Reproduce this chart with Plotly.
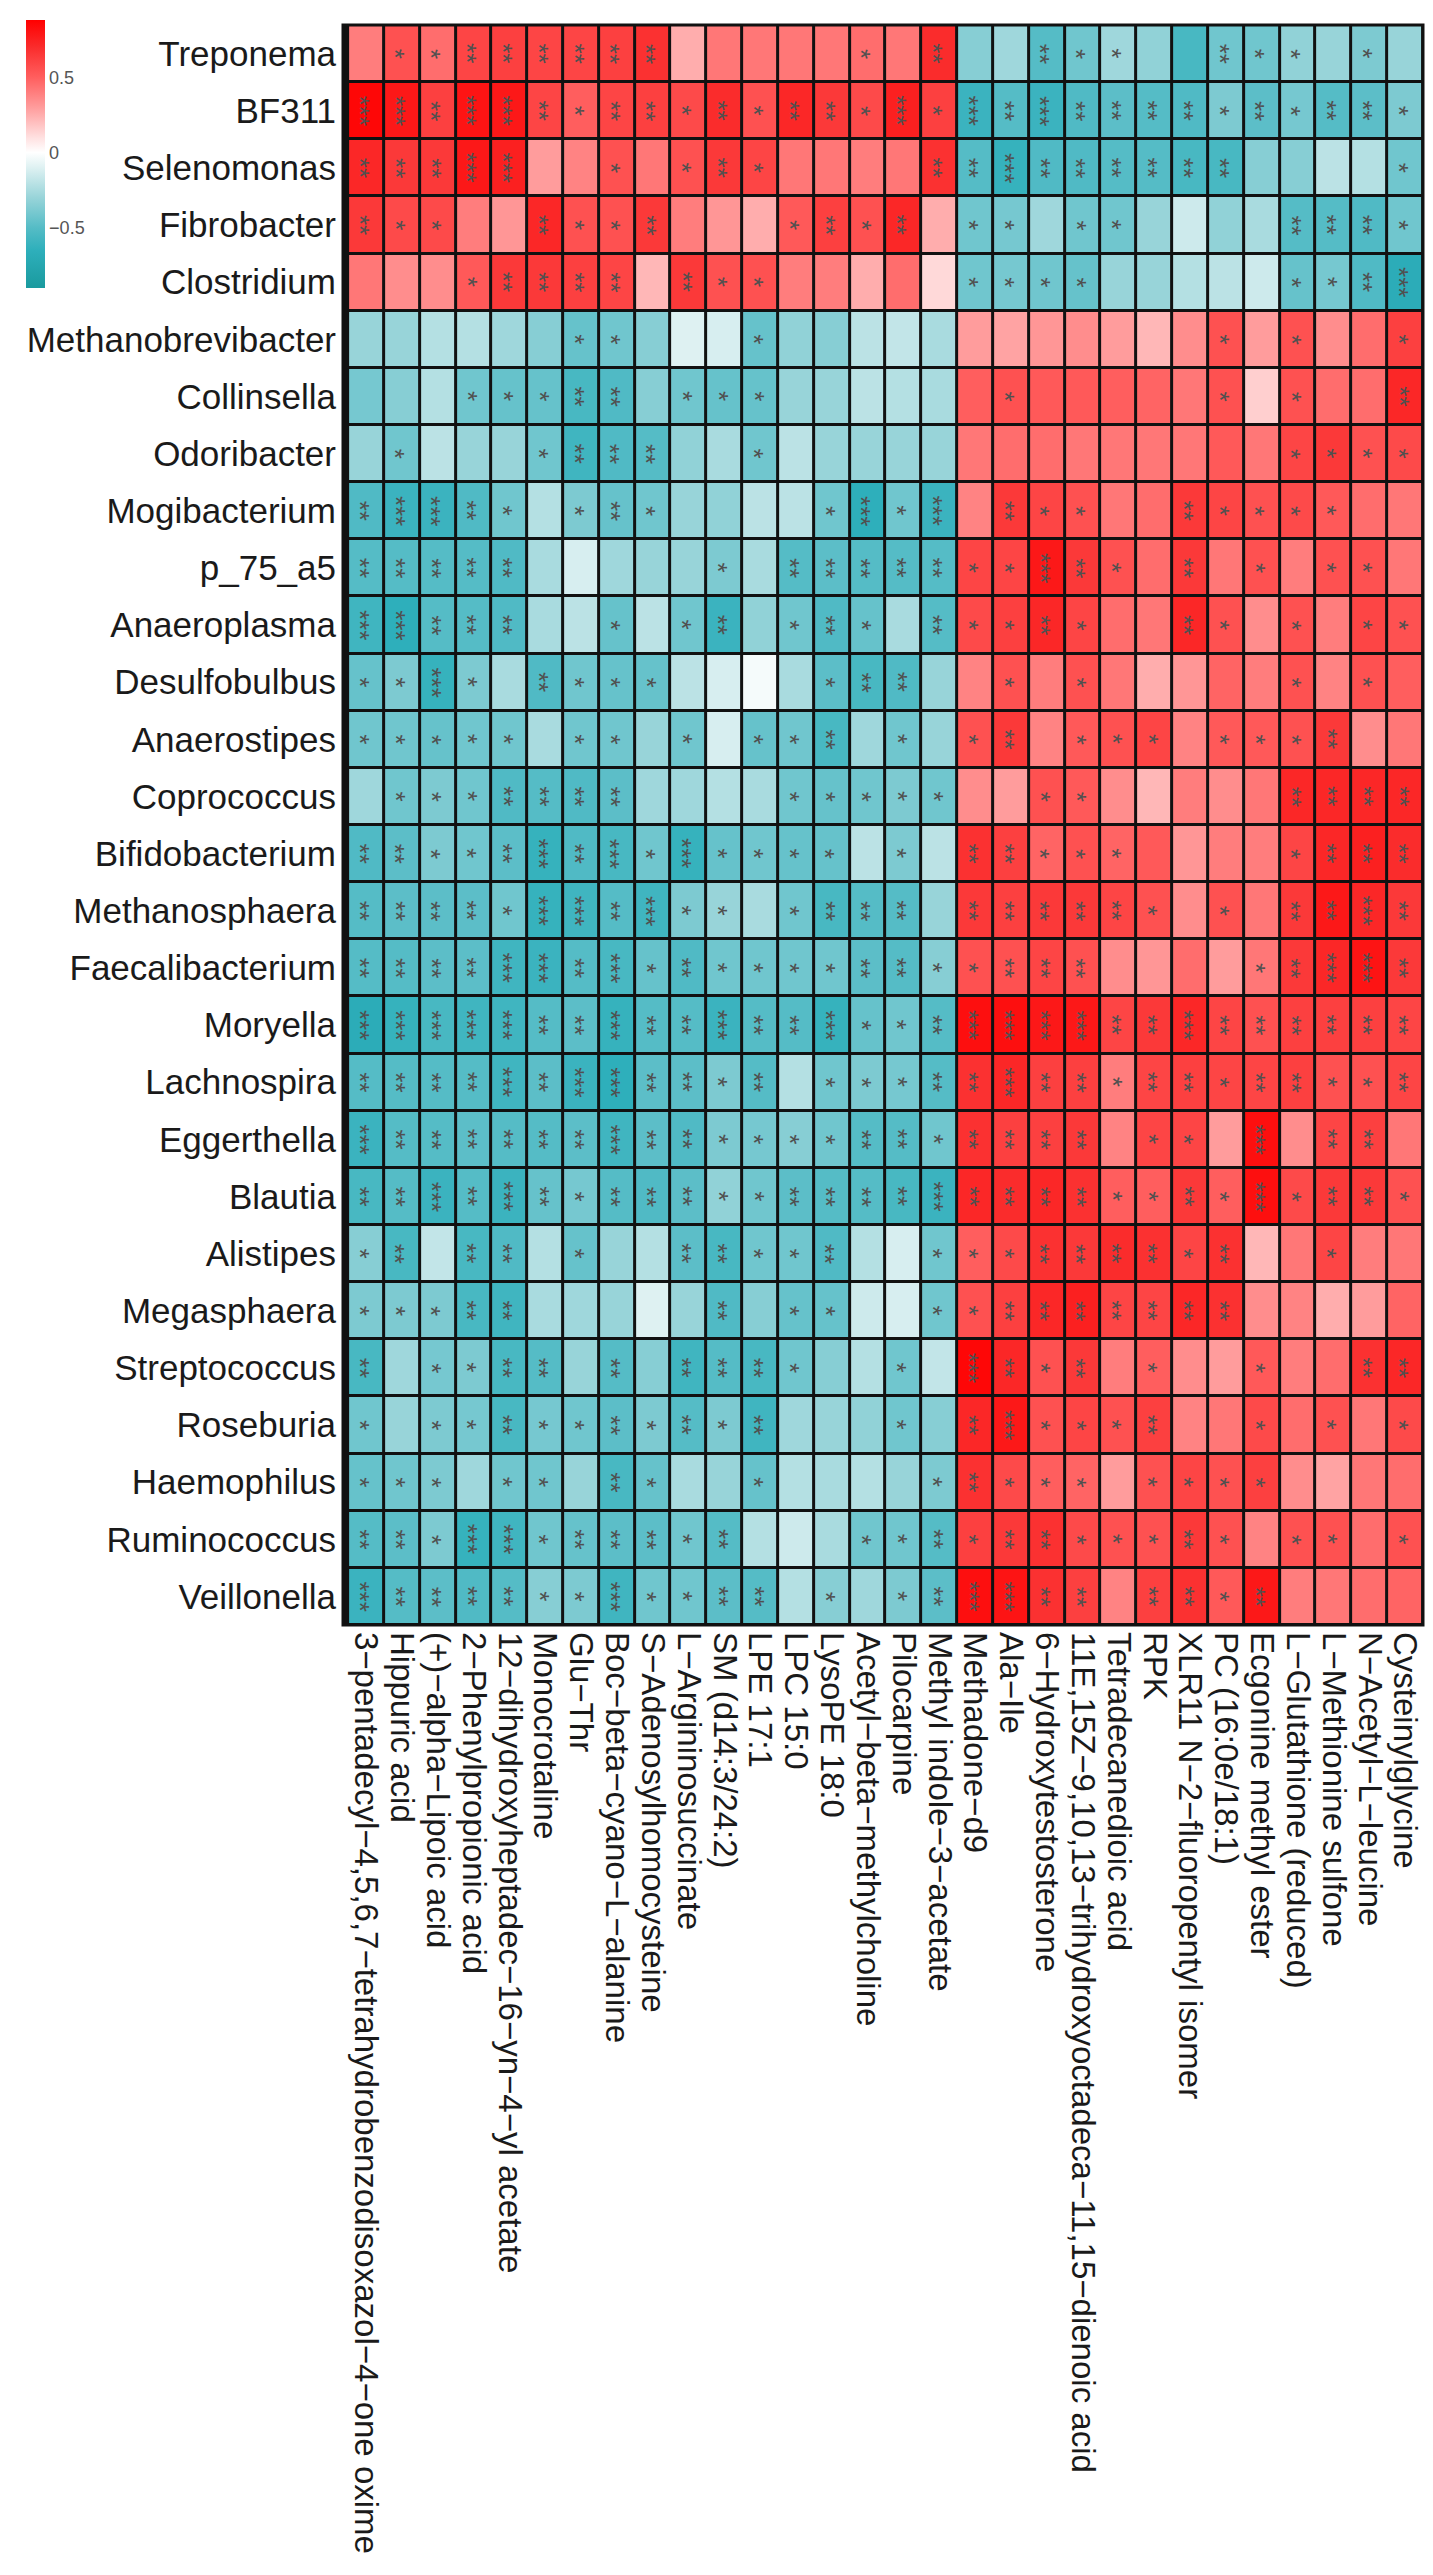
import plotly.graph_objects as go

taxa = ["Treponema", "BF311", "Selenomonas", "Fibrobacter", "Clostridium",
        "Methanobrevibacter", "Collinsella", "Odoribacter", "Mogibacterium", "p_75_a5",
        "Anaeroplasma", "Desulfobulbus", "Anaerostipes", "Coprococcus", "Bifidobacterium",
        "Methanosphaera", "Faecalibacterium", "Moryella", "Lachnospira", "Eggerthella",
        "Blautia", "Alistipes", "Megasphaera", "Streptococcus", "Roseburia",
        "Haemophilus", "Ruminococcus", "Veillonella"]

metabolites = [
    "3−pentadecyl−4,5,6,7−tetrahydrobenzodisoxazol−4−one oxime",
    "Hippuric acid",
    "(+)−alpha−Lipoic acid",
    "2−Phenylpropionic acid",
    "12−dihydroxyheptadec−16−yn−4−yl acetate",
    "Monocrotaline",
    "Glu−Thr",
    "Boc−beta−cyano−L−alanine",
    "S−Adenosylhomocysteine",
    "L−Argininosuccinate",
    "SM (d14:3/24:2)",
    "LPE 17:1",
    "LPC 15:0",
    "LysoPE 18:0",
    "Acetyl−beta−methylcholine",
    "Pilocarpine",
    "Methyl indole−3−acetate",
    "Methadone−d9",
    "Ala−Ile",
    "6−Hydroxytestosterone",
    "11E,15Z−9,10,13−trihydroxyoctadeca−11,15−dienoic acid",
    "Tetradecanedioic acid",
    "RPK",
    "XLR11 N−2−fluoropentyl isomer",
    "PC (16:0e/18:1)",
    "Ecgonine methyl ester",
    "L−Glutathione (reduced)",
    "L−Methionine sulfone",
    "N−Acetyl−L−leucine",
    "Cysteinylglycine",
]

# correlation coefficients, one row per taxon (same order as `taxa`)
corr = [
    [0.40, 0.55, 0.45, 0.60, 0.62, 0.60, 0.60, 0.62, 0.68, 0.25, 0.42, 0.42, 0.42, 0.42, 0.45, 0.42, 0.70, -0.35, -0.28, -0.50, -0.42, -0.28, -0.32, -0.55, -0.42, -0.42, -0.32, -0.30, -0.38, -0.30],
    [0.85, 0.78, 0.62, 0.80, 0.78, 0.60, 0.50, 0.60, 0.62, 0.58, 0.70, 0.55, 0.72, 0.65, 0.58, 0.75, 0.62, -0.60, -0.50, -0.60, -0.52, -0.48, -0.50, -0.52, -0.38, -0.48, -0.40, -0.50, -0.48, -0.38],
    [0.72, 0.65, 0.65, 0.78, 0.75, 0.30, 0.38, 0.55, 0.42, 0.55, 0.65, 0.60, 0.42, 0.42, 0.40, 0.42, 0.68, -0.50, -0.62, -0.52, -0.52, -0.50, -0.50, -0.55, -0.55, -0.35, -0.35, -0.20, -0.22, -0.42],
    [0.65, 0.58, 0.58, 0.40, 0.32, 0.72, 0.55, 0.55, 0.65, 0.40, 0.32, 0.25, 0.52, 0.62, 0.55, 0.72, 0.25, -0.42, -0.40, -0.28, -0.42, -0.42, -0.30, -0.15, -0.32, -0.25, -0.50, -0.50, -0.52, -0.42],
    [0.42, 0.35, 0.35, 0.52, 0.65, 0.65, 0.62, 0.60, 0.22, 0.65, 0.55, 0.55, 0.40, 0.40, 0.25, 0.45, 0.12, -0.42, -0.40, -0.42, -0.45, -0.30, -0.30, -0.22, -0.20, -0.15, -0.45, -0.40, -0.52, -0.68],
    [-0.30, -0.30, -0.22, -0.22, -0.28, -0.35, -0.45, -0.42, -0.35, -0.10, -0.12, -0.45, -0.32, -0.35, -0.20, -0.18, -0.25, 0.30, 0.28, 0.32, 0.35, 0.30, 0.22, 0.35, 0.55, 0.30, 0.55, 0.35, 0.45, 0.62],
    [-0.40, -0.35, -0.22, -0.42, -0.45, -0.45, -0.55, -0.52, -0.35, -0.42, -0.45, -0.45, -0.30, -0.30, -0.20, -0.22, -0.25, 0.50, 0.55, 0.52, 0.52, 0.50, 0.48, 0.42, 0.55, 0.15, 0.55, 0.45, 0.45, 0.72],
    [-0.30, -0.42, -0.20, -0.30, -0.30, -0.42, -0.58, -0.52, -0.50, -0.32, -0.25, -0.42, -0.20, -0.30, -0.30, -0.30, -0.30, 0.42, 0.45, 0.45, 0.42, 0.42, 0.42, 0.42, 0.52, 0.42, 0.60, 0.65, 0.55, 0.58],
    [-0.52, -0.60, -0.60, -0.52, -0.42, -0.22, -0.38, -0.45, -0.42, -0.30, -0.32, -0.20, -0.20, -0.42, -0.65, -0.42, -0.60, 0.38, 0.65, 0.60, 0.55, 0.42, 0.45, 0.65, 0.60, 0.55, 0.58, 0.52, 0.45, 0.42],
    [-0.50, -0.50, -0.50, -0.50, -0.52, -0.25, -0.12, -0.28, -0.30, -0.30, -0.38, -0.25, -0.50, -0.48, -0.50, -0.50, -0.50, 0.60, 0.60, 0.78, 0.65, 0.55, 0.45, 0.65, 0.42, 0.55, 0.40, 0.55, 0.55, 0.42],
    [-0.58, -0.65, -0.50, -0.50, -0.52, -0.25, -0.20, -0.45, -0.20, -0.42, -0.60, -0.32, -0.42, -0.52, -0.45, -0.25, -0.50, 0.58, 0.62, 0.72, 0.60, 0.45, 0.42, 0.72, 0.55, 0.35, 0.55, 0.40, 0.60, 0.55],
    [-0.45, -0.38, -0.62, -0.38, -0.25, -0.52, -0.42, -0.45, -0.45, -0.20, -0.12, -0.03, -0.25, -0.48, -0.55, -0.52, -0.30, 0.38, 0.55, 0.40, 0.55, 0.42, 0.25, 0.32, 0.48, 0.40, 0.55, 0.38, 0.55, 0.50],
    [-0.42, -0.42, -0.45, -0.42, -0.42, -0.25, -0.42, -0.42, -0.30, -0.42, -0.12, -0.45, -0.42, -0.55, -0.28, -0.42, -0.30, 0.55, 0.65, 0.38, 0.52, 0.55, 0.60, 0.38, 0.52, 0.52, 0.55, 0.65, 0.35, 0.42],
    [-0.28, -0.42, -0.38, -0.42, -0.52, -0.50, -0.52, -0.48, -0.28, -0.28, -0.22, -0.25, -0.42, -0.45, -0.42, -0.38, -0.42, 0.35, 0.30, 0.55, 0.52, 0.35, 0.22, 0.40, 0.35, 0.42, 0.72, 0.72, 0.72, 0.72],
    [-0.52, -0.48, -0.38, -0.42, -0.48, -0.62, -0.52, -0.55, -0.42, -0.62, -0.45, -0.42, -0.45, -0.45, -0.20, -0.38, -0.20, 0.68, 0.62, 0.48, 0.55, 0.48, 0.52, 0.32, 0.40, 0.40, 0.60, 0.72, 0.75, 0.70],
    [-0.50, -0.48, -0.48, -0.48, -0.42, -0.62, -0.58, -0.50, -0.58, -0.38, -0.30, -0.25, -0.42, -0.55, -0.50, -0.50, -0.30, 0.65, 0.62, 0.65, 0.65, 0.60, 0.55, 0.35, 0.55, 0.42, 0.65, 0.78, 0.72, 0.65],
    [-0.50, -0.50, -0.48, -0.48, -0.58, -0.60, -0.50, -0.55, -0.45, -0.52, -0.42, -0.42, -0.42, -0.42, -0.48, -0.50, -0.35, 0.55, 0.55, 0.60, 0.55, 0.35, 0.32, 0.45, 0.30, 0.42, 0.65, 0.72, 0.80, 0.65],
    [-0.68, -0.62, -0.55, -0.58, -0.58, -0.50, -0.48, -0.62, -0.50, -0.50, -0.60, -0.50, -0.50, -0.62, -0.45, -0.42, -0.50, 0.82, 0.82, 0.78, 0.78, 0.60, 0.65, 0.72, 0.60, 0.55, 0.62, 0.62, 0.62, 0.60],
    [-0.50, -0.50, -0.50, -0.50, -0.58, -0.48, -0.60, -0.65, -0.48, -0.48, -0.38, -0.50, -0.22, -0.42, -0.38, -0.40, -0.50, 0.68, 0.72, 0.62, 0.62, 0.40, 0.60, 0.62, 0.60, 0.60, 0.62, 0.55, 0.55, 0.60],
    [-0.60, -0.50, -0.50, -0.48, -0.50, -0.50, -0.48, -0.58, -0.48, -0.52, -0.38, -0.40, -0.35, -0.42, -0.50, -0.50, -0.42, 0.68, 0.62, 0.62, 0.65, 0.38, 0.60, 0.60, 0.30, 0.82, 0.35, 0.60, 0.62, 0.42],
    [-0.55, -0.50, -0.60, -0.50, -0.60, -0.45, -0.40, -0.50, -0.52, -0.48, -0.32, -0.42, -0.48, -0.50, -0.50, -0.55, -0.60, 0.72, 0.70, 0.72, 0.68, 0.50, 0.50, 0.65, 0.50, 0.82, 0.58, 0.65, 0.65, 0.55],
    [-0.35, -0.55, -0.18, -0.55, -0.52, -0.22, -0.45, -0.30, -0.22, -0.48, -0.55, -0.42, -0.42, -0.52, -0.22, -0.12, -0.42, 0.50, 0.58, 0.68, 0.65, 0.70, 0.68, 0.60, 0.68, 0.22, 0.42, 0.60, 0.40, 0.42],
    [-0.38, -0.38, -0.38, -0.55, -0.58, -0.25, -0.28, -0.30, -0.10, -0.30, -0.52, -0.35, -0.45, -0.45, -0.15, -0.12, -0.42, 0.55, 0.62, 0.72, 0.75, 0.60, 0.60, 0.72, 0.68, 0.35, 0.38, 0.25, 0.30, 0.48],
    [-0.55, -0.28, -0.40, -0.38, -0.55, -0.50, -0.30, -0.50, -0.35, -0.58, -0.50, -0.55, -0.42, -0.35, -0.22, -0.42, -0.18, 0.85, 0.72, 0.55, 0.65, 0.40, 0.50, 0.35, 0.30, 0.52, 0.40, 0.45, 0.68, 0.72],
    [-0.42, -0.30, -0.38, -0.40, -0.55, -0.40, -0.42, -0.48, -0.38, -0.50, -0.38, -0.58, -0.28, -0.30, -0.32, -0.42, -0.35, 0.72, 0.78, 0.55, 0.60, 0.55, 0.62, 0.38, 0.42, 0.58, 0.45, 0.55, 0.42, 0.58],
    [-0.45, -0.42, -0.38, -0.28, -0.42, -0.42, -0.30, -0.55, -0.45, -0.25, -0.30, -0.45, -0.22, -0.25, -0.22, -0.30, -0.38, 0.68, 0.58, 0.50, 0.48, 0.30, 0.55, 0.60, 0.55, 0.62, 0.35, 0.28, 0.42, 0.45],
    [-0.50, -0.48, -0.38, -0.62, -0.58, -0.42, -0.45, -0.48, -0.48, -0.42, -0.50, -0.22, -0.15, -0.25, -0.42, -0.42, -0.50, 0.62, 0.65, 0.68, 0.58, 0.55, 0.55, 0.65, 0.55, 0.38, 0.55, 0.55, 0.45, 0.55],
    [-0.60, -0.50, -0.48, -0.52, -0.50, -0.35, -0.38, -0.58, -0.42, -0.42, -0.48, -0.50, -0.22, -0.35, -0.28, -0.38, -0.48, 0.82, 0.80, 0.68, 0.62, 0.38, 0.62, 0.68, 0.52, 0.78, 0.40, 0.42, 0.45, 0.48],
]

# number of significance stars per cell (one string per taxon, one digit per metabolite)
stars = [
    "011222222000001" "02" "0021100211010",
    "332332122121221" "31" "3232222121221",
    "222330010121000" "02" "2322222200001",
    "211002112000121" "20" "1101100002221",
    "000122220211000" "00" "1111000001123",
    "000000110001000" "00" "0000000101001",
    "000111220111000" "00" "0100000101002",
    "010001222001000" "00" "0000000001111",
    "233210121000013" "13" "0211002111100",
    "222220000010222" "22" "1132102010110",
    "332220010120121" "02" "1121002101011",
    "113102111000012" "20" "0101000001010",
    "111110110101120" "10" "1201110111200",
    "011122220000111" "11" "0011000002222",
    "221123231311110" "10" "2211100001222",
    "222213323110122" "20" "2222210102232",
    "222233231211112" "21" "1222000012332",
    "333332232232231" "12" "3333223222222",
    "222232332212011" "12" "2322122122112",
    "322222232211112" "21" "2222011030220",
    "223232122211222" "23" "2222112131221",
    "120220100221120" "01" "1122221200100",
    "111220000020110" "01" "1222222200000",
    "201122020222100" "10" "3212010010022",
    "101121121212000" "10" "2311120010101",
    "111011021001000" "01" "2111011110000",
    "221331222120001" "12" "1221112101101",
    "322221131122010" "12" "3322022120000",
]
assert all(len(s) == len(metabolites) for s in stars)
assert all(len(r) == len(metabolites) for r in corr)

zmin, zmax = -0.9, 0.88
color_stops = [(-0.9, "#1a9a9e"), (-0.65, "#2eafbb"), (-0.5, "#55bcc6"), (-0.3, "#98d4d9"),
               (-0.1, "#def1f2"), (0.0, "#ffffff"), (0.1, "#ffe0e0"), (0.3, "#ff9c9c"),
               (0.5, "#ff5e5e"), (0.7, "#fa2c2c"), (0.88, "#ff0000")]
colorscale = [[(v - zmin) / (zmax - zmin), c] for v, c in color_stops]

fig = go.Figure()
fig.add_trace(go.Heatmap(
    z=corr, x=metabolites, y=taxa,
    zmin=zmin, zmax=zmax, colorscale=colorscale,
    xgap=3, ygap=3,
    colorbar=dict(
        x=(18 - 335) / 1080, xanchor="left", xpad=0,
        y=1 + 5 / 1602, yanchor="top", ypad=0,
        lenmode="pixels", len=268, thickness=19,
        outlinewidth=0, ticks="",
        tickvals=[0.5, 0, -0.5], ticktext=["0.5", "0", "−0.5"],
        tickfont=dict(family="Liberation Sans, Arial", size=18, color="#555555"),
    ),
    hoverinfo="skip",
))

annotations = []
for i, t in enumerate(taxa):
    for j, m in enumerate(metabolites):
        n = int(stars[i][j])
        if n > 0:
            annotations.append(dict(
                x=m, y=t, text="*" * n, showarrow=False, textangle=90,
                xshift=-6,
                font=dict(family="Liberation Sans, Arial", size=26, color="#505050"),
            ))

fig.update_layout(
    width=1433, height=2575,
    margin=dict(l=335, r=18, t=15, b=958),
    paper_bgcolor="white", plot_bgcolor="#111111",
    annotations=annotations,
    shapes=[dict(type="rect", xref="paper", yref="paper", x0=0, y0=0, x1=1, y1=1,
                 line=dict(color="#111111", width=3))],
    font=dict(family="Liberation Sans, Arial", color="#1a1a1a"),
)
fig.update_xaxes(side="bottom", tickangle=90, showgrid=False, zeroline=False,
                 tickmode="linear", tick0=0, dtick=1,
                 ticks="", tickfont=dict(size=33, color="#1a1a1a"), ticklabelstandoff=6)
fig.update_yaxes(autorange="reversed", showgrid=False, zeroline=False,
                 tickmode="linear", tick0=0, dtick=1,
                 ticks="", tickfont=dict(size=35, color="#1a1a1a"), ticklabelstandoff=6)

fig.write_html("out.html")
